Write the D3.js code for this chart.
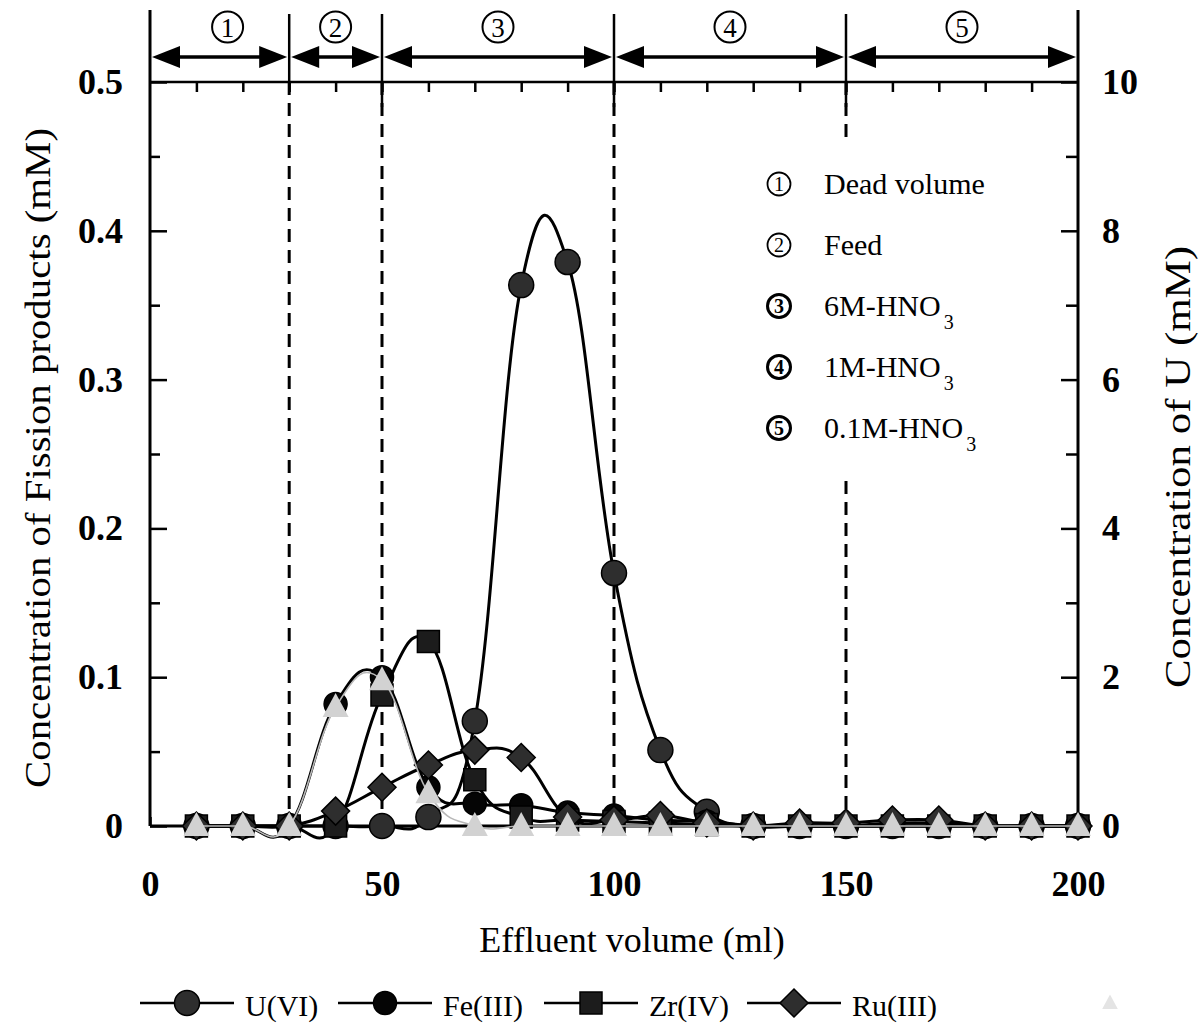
<!DOCTYPE html>
<html>
<head>
<meta charset="utf-8">
<script src="https://cdn.jsdelivr.net/npm/d3@7"></script>
<style>
  html, body { margin: 0; padding: 0; background: #fff; }
  svg { display: block; }
  text { font-family: "Liberation Serif", "Times New Roman", serif; fill: #000; }
</style>
</head>
<body>
<svg id="chart" width="1203" height="1031"></svg>
<script>
// Effluent volume (ml) of each collected fraction
const volume = [10, 20, 30, 40, 50, 60, 70, 80, 90, 100, 110, 120, 130, 140, 150, 160, 170, 180, 190, 200];

// U(VI) concentration, mM (right axis)
const uranium = [0, 0, 0, 0, 0, 0.12, 1.41, 7.27, 7.58, 3.40, 1.02, 0.19, 0, 0, 0, 0, 0, 0, 0, 0];
// Fission product concentrations, mM (left axis)
const iron      = [0, 0, 0, 0.082, 0.100, 0.026, 0.015, 0.014, 0.009, 0.007, 0.004, 0.003, 0, 0, 0, 0.002, 0.002, 0, 0, 0];
const zirconium = [0, 0, 0, 0, 0.088, 0.124, 0.031, 0.006, 0.004, 0.003, 0.002, 0.001, 0, 0, 0, 0, 0, 0, 0, 0];
const ruthenium = [0, 0, 0, 0.010, 0.026, 0.041, 0.051, 0.046, 0.006, 0.004, 0.007, 0.002, 0, 0.002, 0.002, 0.004, 0.004, 0, 0, 0];
const fifthSeries = [0, 0, 0, 0.080, 0.098, 0.022, 0, 0, 0, 0, 0, 0, 0, 0, 0, 0, 0, 0, 0, 0];

const seriesNames = ["U(VI)", "Fe(III)", "Zr(IV)", "Ru(III)"];

// Elution steps along the top
const stepBounds = [0, 30, 50, 100, 150, 200];
const stepNums = ["1", "2", "3", "4", "5"];
const stepNames = ["Dead volume", "Feed", "6M-HNO", "1M-HNO", "0.1M-HNO"];
const stepSubs = ["", "", "3", "3", "3"];

const xTicks = [0, 50, 100, 150, 200];
const leftTicks = [0, 0.1, 0.2, 0.3, 0.4, 0.5];
const rightTicks = [0, 2, 4, 6, 8, 10];

const svg = d3.select("#chart");
const L = 150, R = 1078, T = 82, B = 826;

const x = d3.scaleLinear().domain([0, 200]).range([L, R]);
const yL = d3.scaleLinear().domain([0, 0.5]).range([B, T]);
const yR = d3.scaleLinear().domain([0, 10]).range([B, T]);

// ---------- axes ----------
function styleAxis(g) {
  g.select(".domain").remove();
  g.selectAll(".tick line").attr("stroke", "#000").attr("stroke-width", 2.5);
  g.selectAll(".tick text").attr("font-size", 36).attr("font-weight", "bold")
    .attr("font-family", "Liberation Serif").attr("fill", "#000");
}

// left axis, major + minor inward ticks
svg.append("g").attr("transform", `translate(${L},0)`)
  .call(d3.axisLeft(yL).tickValues(leftTicks).tickSize(-17).tickPadding(27)
    .tickFormat(d => d === 0 ? "0" : d3.format(".1f")(d)))
  .call(styleAxis);
svg.append("g").attr("transform", `translate(${L},0)`)
  .call(d3.axisLeft(yL).tickValues(d3.range(0.05, 0.5, 0.1)).tickSize(-10).tickFormat(""))
  .call(styleAxis);

// right axis
svg.append("g").attr("transform", `translate(${R},0)`)
  .call(d3.axisRight(yR).tickValues(rightTicks).tickSize(-17).tickPadding(24))
  .call(styleAxis);
svg.append("g").attr("transform", `translate(${R},0)`)
  .call(d3.axisRight(yR).tickValues([1, 3, 5, 7, 9]).tickSize(-12).tickFormat(""))
  .call(styleAxis);

// bottom axis
svg.append("g").attr("transform", `translate(0,${B})`)
  .call(d3.axisBottom(x).tickValues(xTicks).tickSize(-9).tickPadding(44))
  .call(styleAxis);
svg.append("g").attr("transform", `translate(0,${B})`)
  .call(d3.axisBottom(x).tickValues(d3.range(10, 200, 10).filter(v => v % 50)).tickSize(-9).tickFormat(""))
  .call(styleAxis);

// top axis (no labels)
svg.append("g").attr("transform", `translate(0,${T})`)
  .call(d3.axisTop(x).tickValues(d3.range(10, 200, 10)).tickSize(-10).tickFormat(""))
  .call(styleAxis);

// frame
const frame = svg.append("g").attr("stroke", "#000").attr("stroke-width", 3);
frame.append("line").attr("x1", L).attr("x2", L).attr("y1", 10).attr("y2", B);
frame.append("line").attr("x1", R).attr("x2", R).attr("y1", 10).attr("y2", B);
frame.append("line").attr("x1", L).attr("x2", R).attr("y1", B).attr("y2", B);
frame.append("line").attr("x1", L).attr("x2", R).attr("y1", T).attr("y2", T).attr("stroke-width", 2.5);

// circled step number
function circled(g, cx, cy, r, num, size, sw, weight) {
  g.append("circle").attr("cx", cx).attr("cy", cy).attr("r", r)
    .attr("fill", "#fff").attr("stroke", "#000").attr("stroke-width", sw);
  g.append("text").attr("x", cx).attr("y", cy + size * 0.36)
    .attr("text-anchor", "middle").attr("font-size", size).attr("font-weight", weight)
    .attr("font-family", "Liberation Sans, Arial, sans-serif").text(num);
}

// ---------- step boundaries ----------
const inner = stepBounds.slice(1, -1);
svg.append("g").selectAll("line").data(inner).join("line")
  .attr("x1", d => x(d)).attr("x2", d => x(d))
  .attr("y1", T).attr("y2", B)
  .attr("stroke", "#000").attr("stroke-width", 3)
  .attr("stroke-dasharray", "13,8");

svg.append("g").selectAll("line").data(inner).join("line")
  .attr("x1", d => x(d)).attr("x2", d => x(d))
  .attr("y1", 14).attr("y2", d => d === 30 ? T : 107)
  .attr("stroke", "#000").attr("stroke-width", 2.5);

// double-headed arrows
const arrowY = 57, headL = 28, headH = 11;
const arrows = svg.append("g");
stepNums.forEach((m, i) => {
  const a = x(stepBounds[i]) + 2, b = x(stepBounds[i + 1]) - 2;
  arrows.append("line").attr("x1", a + headL - 2).attr("x2", b - headL + 2)
    .attr("y1", arrowY).attr("y2", arrowY).attr("stroke", "#000").attr("stroke-width", 3.5);
  arrows.append("path").attr("d", `M${a},${arrowY}L${a + headL},${arrowY - headH}L${a + headL},${arrowY + headH}Z`).attr("fill", "#000");
  arrows.append("path").attr("d", `M${b},${arrowY}L${b - headL},${arrowY - headH}L${b - headL},${arrowY + headH}Z`).attr("fill", "#000");
  circled(arrows, (a + b) / 2 + (i === 0 ? 8 : 0), 27, 15.5, m, 27, 2, "normal");
});

// ---------- step legend (inside) ----------
const lg = svg.append("g");
lg.append("rect").attr("x", 752).attr("y", 142).attr("width", 308).attr("height", 332).attr("fill", "#fff");
stepNames.forEach((n, i) => {
  const by = 194 + i * 61;
  const heavy = i >= 2;
  circled(lg, 779, by - 10, 11.5, stepNums[i], 20, heavy ? 3 : 1.8, heavy ? "bold" : "normal");
  const t = lg.append("text").attr("x", 824).attr("y", by).attr("font-size", 30).text(n);
  if (stepSubs[i]) t.append("tspan").attr("font-size", 20).attr("dy", 13).attr("dx", 3).text(stepSubs[i]);
});

// ---------- data series ----------
const curve = d3.curveCardinal.tension(-0.25);

function markerPath(type) {
  switch (type) {
    case "circle": return d3.symbol(d3.symbolCircle, Math.PI * 12.5 * 12.5)();
    case "dot":    return d3.symbol(d3.symbolCircle, Math.PI * 11.5 * 11.5)();
    case "square": return "M-11,-11H11V11H-11Z";
    case "diamond": return "M0,-14L14,0L0,14L-14,0Z";
    case "triangle": return "M0,-14L13,10L-13,10Z";
  }
}

const series = [
  { vals: uranium, y: yR, marker: "circle", fill: "#2e2e2e", stroke: "#000", line: "#000", lw: 3 },
  { vals: iron, y: yL, marker: "dot", fill: "#050505", stroke: "#000", line: "#000", lw: 3 },
  { vals: zirconium, y: yL, marker: "square", fill: "#1c1c1c", stroke: "#000", line: "#000", lw: 3 },
  { vals: ruthenium, y: yL, marker: "diamond", fill: "#2e2e2e", stroke: "#000", line: "#000", lw: 3 },
  { vals: fifthSeries, y: yL, marker: "triangle", fill: "#d2d2d2", stroke: "none", line: "#b8b8b8", lw: 1.6 }
];

series.forEach(s => {
  const pts = volume.map((v, i) => [v, s.vals[i]]);
  const g = svg.append("g");
  g.append("path")
    .attr("d", d3.line().x(d => x(d[0])).y(d => s.y(d[1])).curve(curve)(pts))
    .attr("fill", "none").attr("stroke", s.line).attr("stroke-width", s.lw);
  g.selectAll("path.m").data(pts).join("path").attr("class", "m")
    .attr("transform", d => `translate(${x(d[0])},${s.y(d[1])})`)
    .attr("d", markerPath(s.marker))
    .attr("fill", s.fill).attr("stroke", s.stroke).attr("stroke-width", 1.5);
});

// ---------- axis titles ----------
svg.append("text").attr("transform", "translate(50,458) rotate(-90)")
  .attr("text-anchor", "middle").attr("font-size", 35)
  .attr("textLength", 660).attr("lengthAdjust", "spacingAndGlyphs")
  .text("Concentration of Fission products (mM)");
svg.append("text").attr("transform", "translate(1190,467) rotate(-90)")
  .attr("text-anchor", "middle").attr("font-size", 35)
  .attr("textLength", 442).attr("lengthAdjust", "spacingAndGlyphs")
  .text("Concentration of U (mM)");
svg.append("text").attr("x", 632).attr("y", 952)
  .attr("text-anchor", "middle").attr("font-size", 36)
  .text("Effluent volume (ml)");

// ---------- series legend ----------
const legendX = [187, 385, 591, 794];
const leg = svg.append("g");
seriesNames.forEach((n, i) => {
  const s = series[i], cx = legendX[i], ly = 1003;
  leg.append("line").attr("x1", cx - 47).attr("x2", cx + 47).attr("y1", ly).attr("y2", ly)
    .attr("stroke", "#000").attr("stroke-width", 2.5);
  leg.append("path").attr("transform", `translate(${cx},${ly})`).attr("d", markerPath(s.marker))
    .attr("fill", s.fill).attr("stroke", s.stroke).attr("stroke-width", 1.5);
  leg.append("text").attr("x", cx + 58).attr("y", ly + 13).attr("font-size", 30).text(n);
});
// faded fifth entry
leg.append("path").attr("transform", "translate(1110,1003) scale(0.6)")
  .attr("d", markerPath("triangle")).attr("fill", "#e4e4e4");
</script>
</body>
</html>
